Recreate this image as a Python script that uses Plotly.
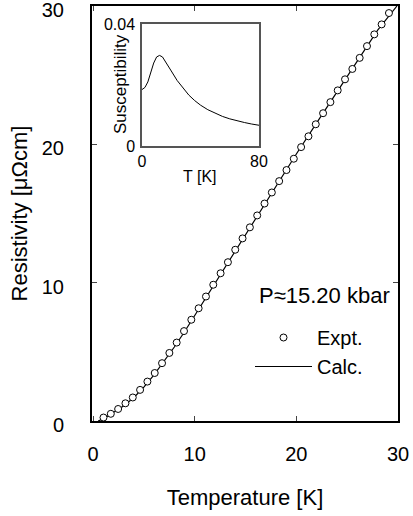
import plotly.graph_objects as go

# Experimental resistivity (circles)
expt_T = [1.03, 1.75, 2.47, 3.19, 3.91, 4.63, 5.35, 6.07, 6.79, 7.51,
          8.23, 8.95, 9.67, 10.39, 11.11, 11.83, 12.55, 13.27, 13.99, 14.71,
          15.43, 16.15, 16.87, 17.59, 18.31, 19.03, 19.75, 20.47, 21.19, 21.91,
          22.63, 23.35, 24.07, 24.79, 25.51, 26.23, 26.95, 27.67, 28.39, 29.11]
expt_rho = [0.25, 0.52, 0.87, 1.28, 1.70, 2.25, 2.85, 3.47, 4.18, 4.92,
            5.67, 6.50, 7.32, 8.15, 9.00, 9.85, 10.68, 11.48, 12.38, 13.20,
            14.00, 14.86, 15.72, 16.52, 17.34, 18.14, 18.96, 19.80, 20.58, 21.45,
            22.25, 23.05, 23.90, 24.70, 25.45, 26.25, 27.10, 27.95, 28.67, 29.49]

# Calculated resistivity (line)
calc_T = [0.5, 1, 2, 3, 4, 5, 6, 7, 8, 9, 10, 11, 12, 13, 14, 15, 16, 17, 18,
          19, 20, 22, 24, 26, 28, 29.9]
calc_rho = [0.0, 0.15, 0.62, 1.08, 1.68, 2.45, 3.33, 4.3, 5.35, 6.45, 7.62,
            8.82, 10.0, 11.18, 12.38, 13.55, 14.7, 15.85, 17.0, 18.15, 19.3,
            21.55, 23.8, 26.05, 28.25, 30.0]

# Inset: susceptibility vs T
chi_T = [0, 2, 4, 6, 8, 10, 12, 14, 16, 18, 20, 24, 28, 32, 36, 40, 45, 50,
         55, 60, 65, 70, 75, 80]
chi = [0.0185, 0.0192, 0.0210, 0.0240, 0.0272, 0.0292, 0.0297, 0.0292,
       0.0278, 0.0262, 0.0246, 0.0215, 0.0189, 0.0167, 0.0149, 0.0134,
       0.0119, 0.0107, 0.0097, 0.0089, 0.0082, 0.0077, 0.0072, 0.0068]

FONT = "Liberation Sans, Arial, Helvetica, sans-serif"
W, H, L, R, T, B = 413, 516, 92, 15, 6, 95
pw, ph = W - L - R, H - T - B


def px(x):
    return (x - L) / pw


def py(y):
    return (H - B - y) / ph


fig = go.Figure()
fig.add_trace(go.Scatter(x=calc_T, y=calc_rho, mode="lines", name="Calc.",
                         line=dict(color="black", width=1.2)))
fig.add_trace(go.Scatter(x=expt_T, y=expt_rho, mode="markers", name="Expt.",
                         marker=dict(symbol="circle", size=7, color="white",
                                     line=dict(color="black", width=1))))
fig.add_trace(go.Scatter(x=chi_T, y=chi, mode="lines", showlegend=False,
                         xaxis="x2", yaxis="y2",
                         line=dict(color="black", width=1)))

fig.update_layout(
    width=W, height=H,
    margin=dict(l=L, r=R, t=T, b=B, autoexpand=False),
    paper_bgcolor="white", plot_bgcolor="white",
    font=dict(family=FONT, color="black", size=20),
    showlegend=True,
    legend=dict(x=px(250), y=py(318), xanchor="left", yanchor="top",
                traceorder="reversed", bgcolor="rgba(0,0,0,0)",
                font=dict(size=20), itemwidth=57, tracegroupgap=0),
    xaxis=dict(range=[-0.1, 30], tickvals=[0, 10, 20, 30],
               ticks="inside", ticklen=5, tickwidth=1.2, mirror="ticks",
               showline=True, linecolor="black", linewidth=2,
               showgrid=False, zeroline=False, ticklabelstandoff=14,
               automargin=False, tickfont=dict(size=20),
               ticklabeloverflow="allow",
               title=dict(text="Temperature [K]", font=dict(size=22),
                          standoff=26)),
    yaxis=dict(range=[0, 30], tickvals=[0, 10, 20, 30],
               ticks="inside", ticklen=5, tickwidth=1.2, mirror="ticks",
               showline=True, linecolor="black", linewidth=2,
               showgrid=False, zeroline=False, ticklabelstandoff=22,
               ticklabelshift=4, ticklabeloverflow="allow",
               automargin=False, tickfont=dict(size=20),
               title=dict(text="Resistivity [\u03bc\u03a9cm]",
                          font=dict(size=22), standoff=8)),
    xaxis2=dict(domain=[px(142), px(259)], anchor="y2", range=[0, 80],
                tickvals=[0, 80], ticks="", showline=True, mirror=True,
                linecolor="#555555", linewidth=1.5, showgrid=False,
                zeroline=False, tickfont=dict(size=16), ticklabelstandoff=0,
                automargin=False),
    yaxis2=dict(domain=[py(146), py(24)], anchor="x2", range=[0, 0.04],
                tickvals=[0, 0.04], ticktext=["0", "0.04"], ticks="",
                showline=True, mirror=True, linecolor="#555555",
                linewidth=1.5, showgrid=False, zeroline=False,
                tickfont=dict(size=16), ticklabelstandoff=2,
                automargin=False),
    annotations=[
        dict(text="P\u224815.20 kbar", x=px(324), y=py(295), xref="paper",
             yref="paper", xanchor="center", yanchor="middle",
             showarrow=False, font=dict(size=22)),
        dict(text="Susceptibility", x=px(120), y=py(84), xref="paper",
             yref="paper", xanchor="center", yanchor="middle",
             showarrow=False, textangle=-90, font=dict(size=17)),
        dict(text="T [K]", x=px(200), y=py(177), xref="paper", yref="paper",
             xanchor="center", yanchor="middle",
             showarrow=False, font=dict(size=16)),
    ],
)

fig.write_html("out.html")
